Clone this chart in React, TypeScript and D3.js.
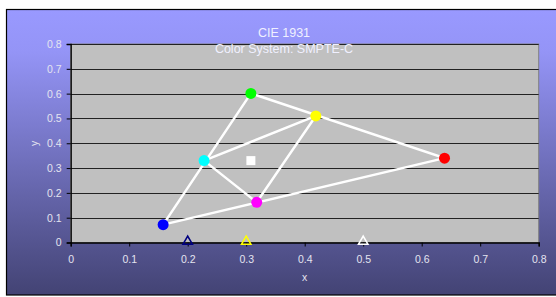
import React, { useEffect, useRef } from 'react';
import * as d3 from 'd3';

// primaries / secondaries
const outerX = [0.158, 0.308, 0.639, 0.158];
const outerY = [0.072, 0.601, 0.34, 0.072];

const innerX = [0.228, 0.419, 0.318, 0.228];
const innerY = [0.33, 0.51, 0.162, 0.33];

const dotColors = ['#0000ff', '#00ff00', '#ff0000', '#00ffff', '#ffff00', '#ff00ff'];
const dotX = [0.158, 0.308, 0.639, 0.228, 0.419, 0.318];
const dotY = [0.072, 0.601, 0.34, 0.33, 0.51, 0.162];

const whiteX = [0.308];
const whiteY = [0.33];

const triX = [0.2, 0.3, 0.5];
const triColors = ['#000080', '#ffff00', '#ffffff'];

const ticks = [0, 0.1, 0.2, 0.3, 0.4, 0.5, 0.6, 0.7, 0.8];

const App = () => {
  const svgRef = useRef<SVGSVGElement>(null);

  useEffect(() => {
    const svg = d3.select(svgRef.current);
    svg.selectAll('*').remove();

    const font = 'Liberation Sans, Arial, sans-serif';
    const left = 70.7, right = 538.7, top = 44, bottom = 242.5;

    const x = d3.scaleLinear().domain([0, 0.8]).range([left, right]);
    const y = d3.scaleLinear().domain([0, 0.8]).range([bottom, top]);

    // background gradient
    const grad = svg.append('defs').append('linearGradient')
      .attr('id', 'bg').attr('x1', 0).attr('y1', 0).attr('x2', 0).attr('y2', 1);
    grad.append('stop').attr('offset', '0%').attr('stop-color', '#9999ff');
    grad.append('stop').attr('offset', '15%').attr('stop-color', '#9494f6');
    grad.append('stop').attr('offset', '100%').attr('stop-color', '#434374');

    svg.append('rect')
      .attr('x', 6.5).attr('y', 9.5).attr('width', 560).attr('height', 285.5)
      .attr('fill', 'url(#bg)').attr('stroke', '#000').attr('stroke-width', 1.2);

    // plot area
    svg.append('rect')
      .attr('x', left).attr('y', top).attr('width', right - left).attr('height', bottom - top)
      .attr('fill', '#c0c0c0').attr('stroke', '#808080').attr('stroke-width', 1);

    // gridlines
    svg.append('g').selectAll('line')
      .data(ticks.slice(1))
      .enter().append('line')
      .attr('x1', left).attr('x2', right)
      .attr('y1', d => Math.round(y(d)) + 0.5).attr('y2', d => Math.round(y(d)) + 0.5)
      .attr('stroke', '#222').attr('stroke-width', 1);

    // axes
    const xAxis = svg.append('g')
      .attr('transform', `translate(0,${bottom})`)
      .call(d3.axisBottom(x).tickValues(ticks).tickFormat(d3.format('')).tickSize(4).tickPadding(9));
    const yAxis = svg.append('g')
      .attr('transform', `translate(${left},0)`)
      .call(d3.axisLeft(y).tickValues(ticks).tickFormat(d3.format('')).tickSize(4).tickPadding(5));
    [xAxis, yAxis].forEach(a => {
      a.select('.domain').attr('stroke', '#000').attr('stroke-width', 1.3);
      a.selectAll('.tick line').attr('stroke', '#000');
      a.selectAll('.tick text')
        .attr('fill', '#e4e4f0').style('font-family', font).style('font-size', '10.5px');
    });

    // triangle connections
    const drawPath = (xs: number[], ys: number[]) => {
      const pts = xs.map((v, i) => [x(v), y(ys[i])] as [number, number]);
      svg.append('path')
        .attr('d', d3.line()(pts))
        .attr('fill', 'none').attr('stroke', '#fff').attr('stroke-width', 2.5);
    };
    drawPath(outerX, outerY);
    drawPath(innerX, innerY);

    // dots
    svg.append('g').selectAll('circle')
      .data(dotX)
      .enter().append('circle')
      .attr('cx', d => x(d))
      .attr('cy', (_, i) => y(dotY[i]))
      .attr('r', 5.5)
      .attr('fill', (_, i) => dotColors[i]);

    // white point
    svg.append('g').selectAll('rect')
      .data(whiteX)
      .enter().append('rect')
      .attr('x', d => x(d) - 4.5)
      .attr('y', (_, i) => y(whiteY[i]) - 4.5)
      .attr('width', 9).attr('height', 9)
      .attr('fill', '#fff');

    // triangles on axis
    const tri = d3.symbol().type(d3.symbolTriangle).size(38);
    svg.append('g').selectAll('path')
      .data(triX)
      .enter().append('path')
      .attr('d', tri)
      .attr('transform', d => `translate(${x(d)},${bottom - 1})`)
      .attr('fill', 'none')
      .attr('stroke', (_, i) => triColors[i])
      .attr('stroke-width', 1.6);

    // titles
    const title = svg.append('text')
      .attr('text-anchor', 'middle')
      .attr('fill', '#f0f0ff').style('font-family', font).style('font-size', '12.5px');
    title.append('tspan').attr('x', 284).attr('y', 37).text('CIE 1931');
    title.append('tspan').attr('x', 284).attr('y', 52.5).text('Color System: SMPTE-C');

    svg.append('text')
      .attr('x', x(0.4)).attr('y', 281).attr('text-anchor', 'middle')
      .attr('fill', '#e4e4f0').style('font-family', font).style('font-size', '10.5px')
      .text('x');

    svg.append('text')
      .attr('transform', `translate(38,${y(0.4)}) rotate(-90)`)
      .attr('text-anchor', 'middle')
      .attr('fill', '#e4e4f0').style('font-family', font).style('font-size', '10.5px')
      .text('y');
  }, []);

  return (
    <svg ref={svgRef} width={556} height={297}
      style={{ position: 'absolute', left: 0, top: 0, display: 'block' }} />
  );
};

export default App;
